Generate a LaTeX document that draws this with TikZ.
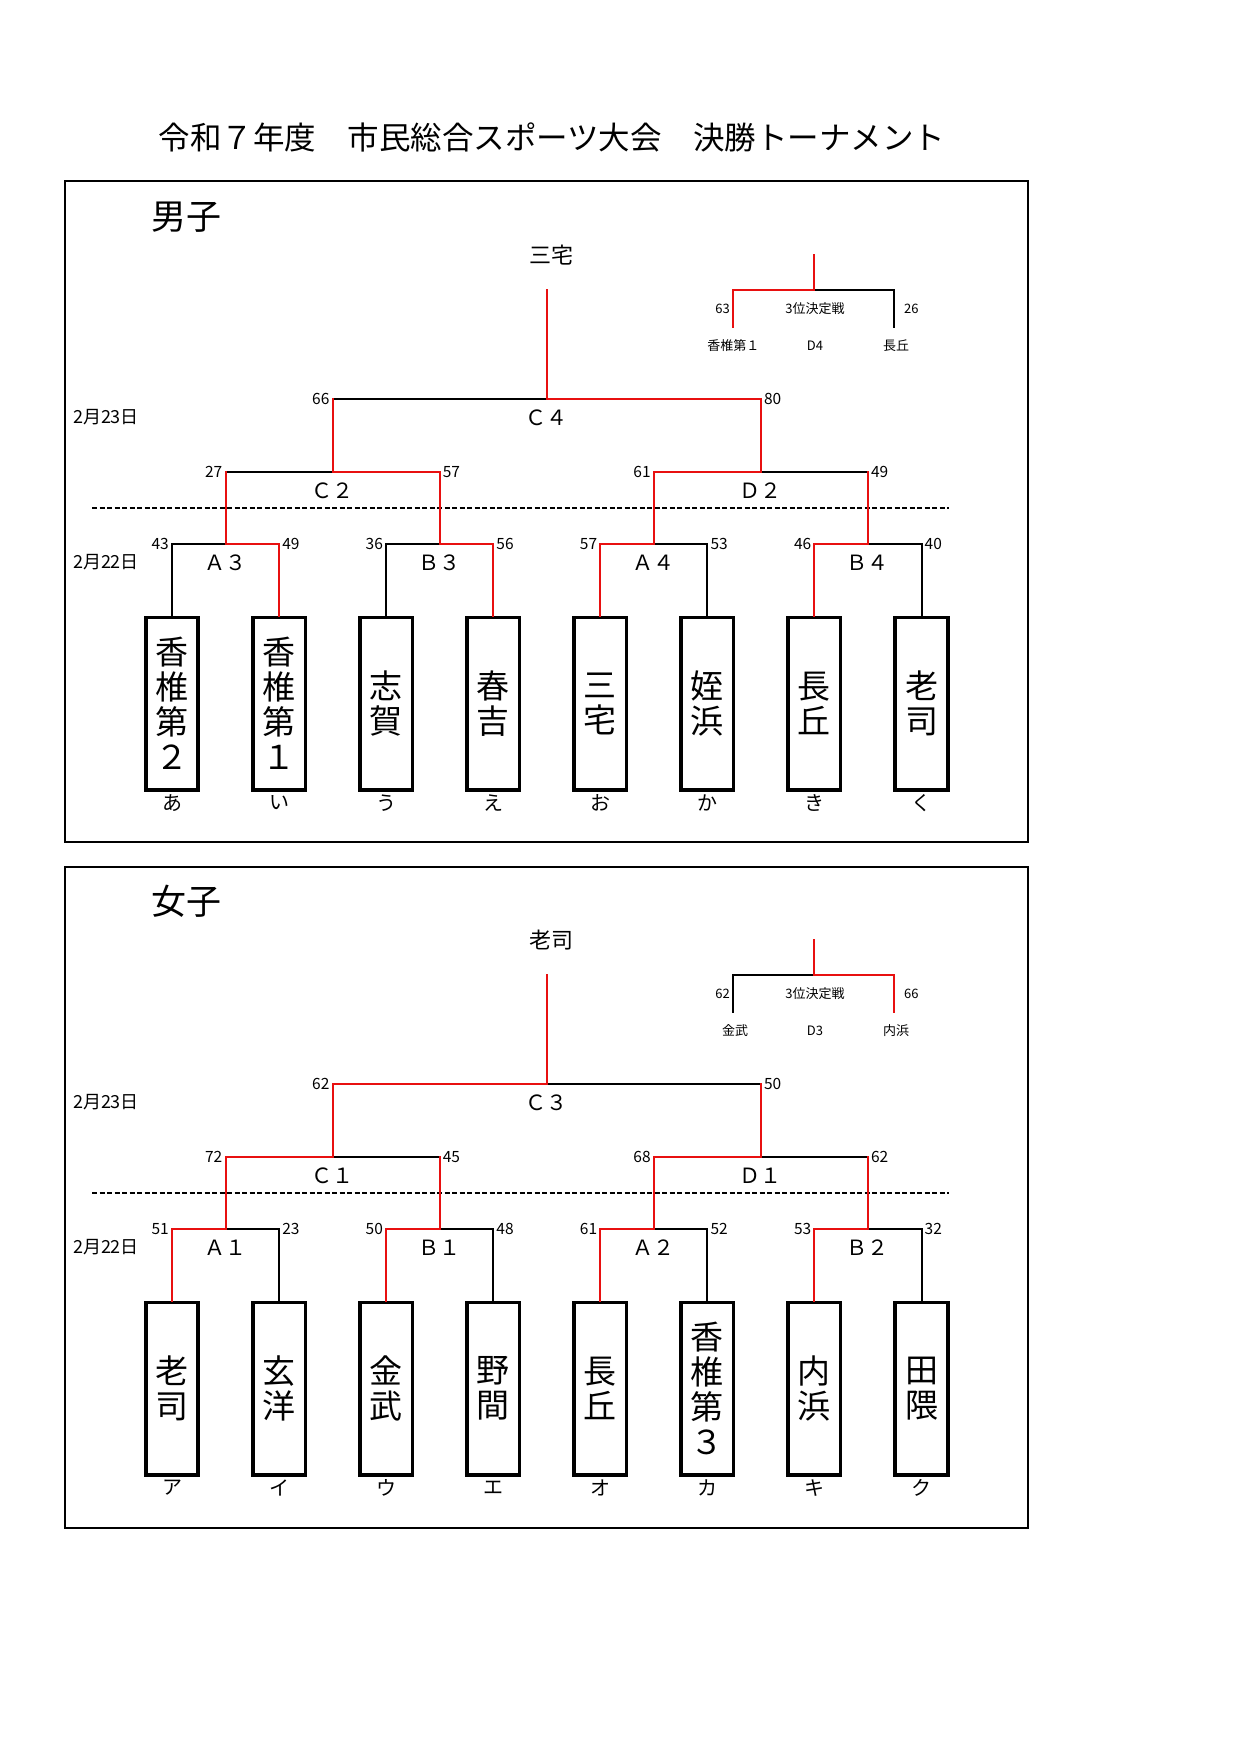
\documentclass[tikz,border=0pt]{standalone}
\usepackage{fontspec}
\setmainfont{Noto Sans CJK JP}
\definecolor{wred}{RGB}{232,16,16}
\begin{document}
\begin{tikzpicture}[x=1pt,y=-1pt,
  wl/.style={draw=wred,line width=2pt,line cap=rect},
  ll/.style={draw=black,line width=2pt,line cap=rect},
  team/.style={draw,line width=3.6pt,minimum width=52.5pt,minimum height=172.5pt,inner sep=0pt,align=center,font=\fontsize{33}{35}\selectfont},
  sc/.style={font=\fontsize{15.5}{15.5}\selectfont,inner sep=0pt},
  ml/.style={font=\fontsize{21}{21}\selectfont,inner sep=0pt},
  dt/.style={font=\fontsize{18}{18}\selectfont,inner sep=0pt},
  kana/.style={font=\fontsize{20}{20}\selectfont,inner sep=0pt},
  sm/.style={font=\fontsize{13}{13}\selectfont,inner sep=0pt},
  champ/.style={font=\fontsize{22}{22}\selectfont,inner sep=0pt},
  head/.style={font=\fontsize{35}{35}\selectfont,inner sep=0pt},
  frame/.style={draw,line width=2.2pt},
  sep/.style={draw,line width=2pt,dash pattern=on 5pt off 2.5pt}]
\fill[white] (0,0) rectangle (1240,1754);
\useasboundingbox (0,0) rectangle (1240,1754);
% title
\node[font=\fontsize{31.5}{31.5}\selectfont,inner sep=0pt] (title) at (552,137) {令和７年度　市民総合スポーツ大会　決勝トーナメント};

% ================= MEN =================
\draw[frame] (64.7,181) rectangle (1028,841.7);
\node[head] (mhead) at (186.7,216.7) {男子};
\node[champ] (mchamp) at (551,255) {三宅};
\node[dt] (md23) at (106,416.7) {2月23日};
\node[dt] (md22) at (106,562) {2月22日};
\draw[sep] (92,507.7) -- (949,507.7);

\node[team] (M0) at (172,703.7) {香\\椎\\第\\２};
\node[team] (M1) at (279.1,703.7) {香\\椎\\第\\１};
\node[team] (M2) at (386.1,703.7) {志\\賀};
\node[team] (M3) at (493.2,703.7) {春\\吉};
\node[team] (M4) at (600.3,703.7) {三\\宅};
\node[team] (M5) at (707.4,703.7) {姪\\浜};
\node[team] (M6) at (814.4,703.7) {長\\丘};
\node[team] (M7) at (921.5,703.7) {老\\司};
\path (M0.south) ++(0,11.3) node[kana] (kM0) {あ};
\path (M1.south) ++(0,11.3) node[kana] (kM1) {い};
\path (M2.south) ++(0,11.3) node[kana] (kM2) {う};
\path (M3.south) ++(0,11.3) node[kana] (kM3) {え};
\path (M4.south) ++(0,11.3) node[kana] (kM4) {お};
\path (M5.south) ++(0,11.3) node[kana] (kM5) {か};
\path (M6.south) ++(0,11.3) node[kana] (kM6) {き};
\path (M7.south) ++(0,11.3) node[kana] (kM7) {く};

\coordinate (MQ0) at (225.5,544);
\coordinate (MQ1) at (439.6,544);
\coordinate (MQ2) at (653.8,544);
\coordinate (MQ3) at (867.9,544);
\coordinate (MS0) at (332.6,472);
\coordinate (MS1) at (760.8,472);
\coordinate (MF) at (546.7,399);
\coordinate (MC) at (546.7,290);

% losers
\draw[ll] (M0.north) |- (MQ0);
\draw[ll] (M2.north) |- (MQ1);
\draw[ll] (M5.north) |- (MQ2);
\draw[ll] (M7.north) |- (MQ3);
\draw[ll] (MQ0 |- MS0) -- (MS0);
\draw[ll] (MQ3 |- MS1) -- (MS1);
\draw[ll] (MS0 |- MF) -- (MF);
% winners
\draw[wl] (M1.north) |- (MQ0);
\draw[wl] (M3.north) |- (MQ1);
\draw[wl] (M4.north) |- (MQ2);
\draw[wl] (M6.north) |- (MQ3);
\draw[wl] (MQ1 |- MS0) -- (MS0);
\draw[wl] (MQ2 |- MS1) -- (MS1);
\draw[wl] (MS1 |- MF) -- (MF);
\draw[wl] (MQ0) -- (MQ0 |- MS0);
\draw[wl] (MQ1) -- (MQ1 |- MS0);
\draw[wl] (MQ2) -- (MQ2 |- MS1);
\draw[wl] (MQ3) -- (MQ3 |- MS1);
\draw[wl] (MS0) -- (MS0 |- MF);
\draw[wl] (MS1) -- (MS1 |- MF);
\draw[wl] (MF) -- (MC);

% scores
\node[sc,anchor=east] at ([xshift=-3pt]MQ0 -| M0) {43};
\node[sc,anchor=west] at ([xshift=3pt]MQ0 -| M1) {49};
\node[sc,anchor=east] at ([xshift=-3pt]MQ1 -| M2) {36};
\node[sc,anchor=west] at ([xshift=3pt]MQ1 -| M3) {56};
\node[sc,anchor=east] at ([xshift=-3pt]MQ2 -| M4) {57};
\node[sc,anchor=west] at ([xshift=3pt]MQ2 -| M5) {53};
\node[sc,anchor=east] at ([xshift=-3pt]MQ3 -| M6) {46};
\node[sc,anchor=west] at ([xshift=3pt]MQ3 -| M7) {40};
\node[sc,anchor=east] at ([xshift=-3pt]MS0 -| MQ0) {27};
\node[sc,anchor=west] at ([xshift=3pt]MS0 -| MQ1) {57};
\node[sc,anchor=east] at ([xshift=-3pt]MS1 -| MQ2) {61};
\node[sc,anchor=west] at ([xshift=3pt]MS1 -| MQ3) {49};
\node[sc,anchor=east] at ([xshift=-3pt]MF -| MS0) {66};
\node[sc,anchor=west] at ([xshift=3pt]MF -| MS1) {80};
% match labels
\node[ml] at ([yshift=-18.5pt]MQ0) {Ａ３};
\node[ml] at ([yshift=-18.5pt]MQ1) {Ｂ３};
\node[ml] at ([yshift=-18.5pt]MQ2) {Ａ４};
\node[ml] at ([yshift=-18.5pt]MQ3) {Ｂ４};
\node[ml] at ([yshift=-18.5pt]MS0) {Ｃ２};
\node[ml] at ([yshift=-18.5pt]MS1) {Ｄ２};
\node[ml] at ([yshift=-19pt]MF) {Ｃ４};

% third place (men)
\coordinate (MT) at (814,290);
\coordinate (MTt) at (814,255);
\coordinate (MTL) at (733.3,327.3);
\coordinate (MTR) at (893.7,327.3);
\draw[ll] (MTR) |- (MT);
\draw[wl] (MTL) |- (MT);
\draw[wl] (MT) -- (MTt);
\node[sm,anchor=east] at (730,309) {63};
\node[sm,anchor=west] at (904,309) {26};
\node[sm] at (815,309) {3位決定戦};
\node[sm] at (733.3,346) {香椎第１};
\node[sm] at (815,346) {D4};
\node[sm] at (896,346) {長丘};

% ================= WOMEN =================
\draw[frame] (64.7,866.7) rectangle (1028,1527.7);
\node[head] (fhead) at (186.7,901.7) {女子};
\node[champ] (fchamp) at (551,940) {老司};
\node[dt] (fd23) at (106,1101.7) {2月23日};
\node[dt] (fd22) at (106,1247) {2月22日};
\draw[sep] (92,1192.7) -- (949,1192.7);

\node[team] (F0) at (172,1388.7) {老\\司};
\node[team] (F1) at (279.1,1388.7) {玄\\洋};
\node[team] (F2) at (386.1,1388.7) {金\\武};
\node[team] (F3) at (493.2,1388.7) {野\\間};
\node[team] (F4) at (600.3,1388.7) {長\\丘};
\node[team] (F5) at (707.4,1388.7) {香\\椎\\第\\３};
\node[team] (F6) at (814.4,1388.7) {内\\浜};
\node[team] (F7) at (921.5,1388.7) {田\\隈};
\path (F0.south) ++(0,11.3) node[kana] (kF0) {ア};
\path (F1.south) ++(0,11.3) node[kana] (kF1) {イ};
\path (F2.south) ++(0,11.3) node[kana] (kF2) {ウ};
\path (F3.south) ++(0,11.3) node[kana] (kF3) {エ};
\path (F4.south) ++(0,11.3) node[kana] (kF4) {オ};
\path (F5.south) ++(0,11.3) node[kana] (kF5) {カ};
\path (F6.south) ++(0,11.3) node[kana] (kF6) {キ};
\path (F7.south) ++(0,11.3) node[kana] (kF7) {ク};

\coordinate (FQ0) at (225.5,1229);
\coordinate (FQ1) at (439.6,1229);
\coordinate (FQ2) at (653.8,1229);
\coordinate (FQ3) at (867.9,1229);
\coordinate (FS0) at (332.6,1157);
\coordinate (FS1) at (760.8,1157);
\coordinate (FF) at (546.7,1084);
\coordinate (FC) at (546.7,975);

% losers
\draw[ll] (F1.north) |- (FQ0);
\draw[ll] (F3.north) |- (FQ1);
\draw[ll] (F5.north) |- (FQ2);
\draw[ll] (F7.north) |- (FQ3);
\draw[ll] (FQ1 |- FS0) -- (FS0);
\draw[ll] (FQ3 |- FS1) -- (FS1);
\draw[ll] (FS1 |- FF) -- (FF);
% winners
\draw[wl] (F0.north) |- (FQ0);
\draw[wl] (F2.north) |- (FQ1);
\draw[wl] (F4.north) |- (FQ2);
\draw[wl] (F6.north) |- (FQ3);
\draw[wl] (FQ0 |- FS0) -- (FS0);
\draw[wl] (FQ2 |- FS1) -- (FS1);
\draw[wl] (FS0 |- FF) -- (FF);
\draw[wl] (FQ0) -- (FQ0 |- FS0);
\draw[wl] (FQ1) -- (FQ1 |- FS0);
\draw[wl] (FQ2) -- (FQ2 |- FS1);
\draw[wl] (FQ3) -- (FQ3 |- FS1);
\draw[wl] (FS0) -- (FS0 |- FF);
\draw[wl] (FS1) -- (FS1 |- FF);
\draw[wl] (FF) -- (FC);

% scores
\node[sc,anchor=east] at ([xshift=-3pt]FQ0 -| F0) {51};
\node[sc,anchor=west] at ([xshift=3pt]FQ0 -| F1) {23};
\node[sc,anchor=east] at ([xshift=-3pt]FQ1 -| F2) {50};
\node[sc,anchor=west] at ([xshift=3pt]FQ1 -| F3) {48};
\node[sc,anchor=east] at ([xshift=-3pt]FQ2 -| F4) {61};
\node[sc,anchor=west] at ([xshift=3pt]FQ2 -| F5) {52};
\node[sc,anchor=east] at ([xshift=-3pt]FQ3 -| F6) {53};
\node[sc,anchor=west] at ([xshift=3pt]FQ3 -| F7) {32};
\node[sc,anchor=east] at ([xshift=-3pt]FS0 -| FQ0) {72};
\node[sc,anchor=west] at ([xshift=3pt]FS0 -| FQ1) {45};
\node[sc,anchor=east] at ([xshift=-3pt]FS1 -| FQ2) {68};
\node[sc,anchor=west] at ([xshift=3pt]FS1 -| FQ3) {62};
\node[sc,anchor=east] at ([xshift=-3pt]FF -| FS0) {62};
\node[sc,anchor=west] at ([xshift=3pt]FF -| FS1) {50};
% match labels
\node[ml] at ([yshift=-18.5pt]FQ0) {Ａ１};
\node[ml] at ([yshift=-18.5pt]FQ1) {Ｂ１};
\node[ml] at ([yshift=-18.5pt]FQ2) {Ａ２};
\node[ml] at ([yshift=-18.5pt]FQ3) {Ｂ２};
\node[ml] at ([yshift=-18.5pt]FS0) {Ｃ１};
\node[ml] at ([yshift=-18.5pt]FS1) {Ｄ１};
\node[ml] at ([yshift=-19pt]FF) {Ｃ３};

% third place (women)
\coordinate (FT) at (814,975);
\coordinate (FTt) at (814,940);
\coordinate (FTL) at (733.3,1012.3);
\coordinate (FTR) at (893.7,1012.3);
\draw[ll] (FTL) |- (FT);
\draw[wl] (FTR) |- (FT);
\draw[wl] (FT) -- (FTt);
\node[sm,anchor=east] at (730,994) {62};
\node[sm,anchor=west] at (904,994) {66};
\node[sm] at (815,994) {3位決定戦};
\node[sm] at (735,1031) {金武};
\node[sm] at (815,1031) {D3};
\node[sm] at (896,1031) {内浜};
\end{tikzpicture}
\end{document}
